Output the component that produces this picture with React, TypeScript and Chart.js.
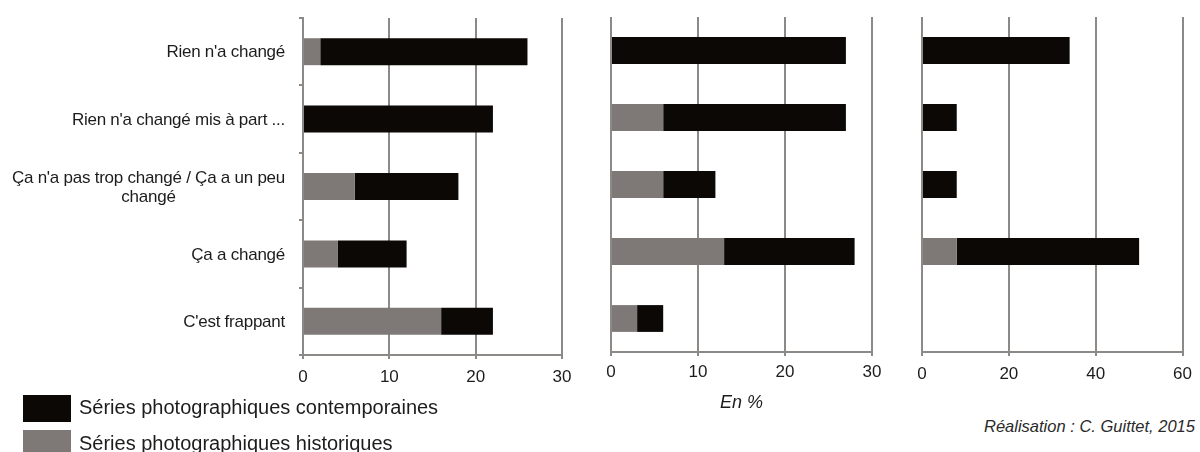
import React, { useEffect, useRef } from "react";
import { Chart, registerables } from "chart.js";

Chart.register(...registerables);

// ---------- DATA ----------
const categories: (string | string[])[] = [
  "Rien n'a changé",
  "Rien n'a changé mis à part ...",
  ["Ça n'a pas trop changé / Ça a un peu", "changé"],
  "Ça a changé",
  "C'est frappant",
];

const seriesNames = [
  "Séries photographiques contemporaines",
  "Séries photographiques historiques",
];

// panel 1
const p1Historiques = [2, 0, 6, 4, 16];
const p1Contemporaines = [24, 22, 12, 8, 6];
// panel 2
const p2Historiques = [0, 6, 6, 13, 3];
const p2Contemporaines = [27, 21, 6, 15, 3];
// panel 3
const p3Historiques = [0, 0, 0, 8, 0];
const p3Contemporaines = [34, 8, 8, 42, 0];

const axisMax = [30, 30, 60];
const axisStep = [10, 10, 20];

const axisTitle = "En %";
const credit = "Réalisation : C. Guittet, 2015";

// ---------- STYLE ----------
const BLACK = "#0b0806";
const GREY = "#7e7876";
const GRID = "#8d8987";
const TEXT = "#1c1c1c";
const FONT = "'Liberation Sans', Arial, Helvetica, sans-serif";

const categoryLabelPlugin = {
  id: "catLabels",
  afterDraw(chart: any, _args: any, opts: any) {
    if (!opts || !opts.enabled) return;
    const yScale = chart.scales.y;
    const ctx = chart.ctx as CanvasRenderingContext2D;
    ctx.save();
    ctx.font = `17px ${FONT}`;
    try {
      (ctx as any).letterSpacing = "-0.25px";
    } catch (e) {}
    ctx.fillStyle = TEXT;
    ctx.textBaseline = "middle";
    ctx.textAlign = "center";
    const right = chart.chartArea.left - opts.gap;
    (chart.data.labels as any[]).forEach((lab, i) => {
      const cy = yScale.getPixelForValue(i) + 1;
      const lines: string[] = Array.isArray(lab) ? lab : [lab];
      const block = Math.max(...lines.map((l) => ctx.measureText(l).width));
      const cx = right - block / 2;
      lines.forEach((l, k) => {
        const ly = cy + (k - (lines.length - 1) / 2) * opts.lineHeight;
        ctx.fillText(l, cx, ly);
      });
    });
    ctx.restore();
  },
};

type Area = { left: number; right: number; top: number; bottom: number };

type PanelProps = {
  left: number;
  width: number;
  height: number;
  area: Area;
  hist: number[];
  cont: number[];
  max: number;
  step: number;
  withCategories: boolean;
  tickPad: number;
  title?: string;
};

function Panel(p: PanelProps) {
  const ref = useRef<HTMLCanvasElement | null>(null);
  useEffect(() => {
    if (!ref.current) return;
    const yw = p.withCategories ? 4 : 1;
    const xh = p.height - p.area.bottom;
    const chart = new Chart(ref.current, {
      type: "bar",
      data: {
        labels: categories as any,
        datasets: [
          {
            label: seriesNames[1],
            data: p.hist,
            backgroundColor: GREY,
            borderWidth: 0,
            categoryPercentage: 0.8,
            barPercentage: 0.5,
          },
          {
            label: seriesNames[0],
            data: p.cont,
            backgroundColor: BLACK,
            borderWidth: 0,
            categoryPercentage: 0.8,
            barPercentage: 0.5,
          },
        ],
      },
      options: {
        indexAxis: "y",
        animation: false,
        responsive: false,
        maintainAspectRatio: false,
        layout: {
          padding: {
            left: p.area.left - p.left - yw,
            right: p.left + p.width - p.area.right,
            top: p.area.top,
            bottom: 0,
          },
        },
        plugins: {
          legend: { display: false },
          tooltip: { enabled: false },
          catLabels: { enabled: p.withCategories, gap: 18, lineHeight: 19 },
        } as any,
        scales: {
          x: {
            stacked: true,
            min: 0,
            max: p.max,
            ticks: {
              stepSize: p.step,
              color: TEXT,
              font: { family: FONT, size: 17 },
              padding: p.tickPad,
            },
            grid: {
              color: GRID,
              lineWidth: 2,
              drawTicks: true,
              tickLength: 4,
              tickColor: GRID,
            },
            border: { display: true, color: GRID, width: 2 },
            title: p.title
              ? {
                  display: true,
                  text: p.title,
                  color: TEXT,
                  font: { family: FONT, size: 18, style: "italic" },
                  padding: { top: 0, bottom: 0 },
                }
              : { display: false },
            afterFit: (s: any) => {
              s.height = xh;
            },
          } as any,
          y: {
            stacked: true,
            ticks: { display: false },
            grid: {
              display: p.withCategories,
              drawOnChartArea: false,
              drawTicks: true,
              tickLength: 4,
              color: GRID,
              tickColor: GRID,
              lineWidth: 2,
              offset: true,
            },
            border: { display: p.withCategories, color: GRID, width: 2 },
            afterFit: (s: any) => {
              s.width = yw;
            },
          } as any,
        },
      },
      plugins: [categoryLabelPlugin as any],
    });
    return () => chart.destroy();
  }, []);
  return (
    <canvas
      ref={ref}
      width={p.width}
      height={p.height}
      style={{
        position: "absolute",
        left: p.left,
        top: 0,
        width: p.width,
        height: p.height,
      }}
    />
  );
}

export default function App() {
  return (
    <div
      style={{
        position: "absolute",
        left: 0,
        top: 0,
        width: 1200,
        height: 452,
        overflow: "hidden",
        background: "#ffffff",
        fontFamily: FONT,
      }}
    >
      <Panel
        left={0}
        width={580}
        height={400}
        area={{ left: 303, right: 562, top: 18, bottom: 355 }}
        hist={p1Historiques}
        cont={p1Contemporaines}
        max={axisMax[0]}
        step={axisStep[0]}
        withCategories={true}
        tickPad={8}
      />
      <Panel
        left={590}
        width={300}
        height={414}
        area={{ left: 611, right: 872, top: 17, bottom: 352 }}
        hist={p2Historiques}
        cont={p2Contemporaines}
        max={axisMax[1]}
        step={axisStep[1]}
        withCategories={false}
        tickPad={6}
        title={axisTitle}
      />
      <Panel
        left={900}
        width={300}
        height={400}
        area={{ left: 922, right: 1184, top: 17, bottom: 352 }}
        hist={p3Historiques}
        cont={p3Contemporaines}
        max={axisMax[2]}
        step={axisStep[2]}
        withCategories={false}
        tickPad={8}
      />
      {/* legend */}
      <div style={{ position: "absolute", left: 23, top: 395, width: 48, height: 27, background: BLACK }} />
      <div style={{ position: "absolute", left: 23, top: 430, width: 48, height: 27, background: GREY }} />
      <div
        style={{
          position: "absolute",
          left: 79,
          top: 397,
          fontSize: 20,
          lineHeight: "20px",
          color: TEXT,
          whiteSpace: "nowrap",
        }}
      >
        {seriesNames[0]}
      </div>
      <div
        style={{
          position: "absolute",
          left: 79,
          top: 433,
          fontSize: 20,
          lineHeight: "20px",
          color: TEXT,
          whiteSpace: "nowrap",
        }}
      >
        {seriesNames[1]}
      </div>
      <div
        style={{
          position: "absolute",
          left: 984,
          top: 418,
          fontSize: 16.5,
          lineHeight: "16.5px",
          fontStyle: "italic",
          color: "#2a2a2a",
          whiteSpace: "nowrap",
        }}
      >
        {credit}
      </div>
    </div>
  );
}
